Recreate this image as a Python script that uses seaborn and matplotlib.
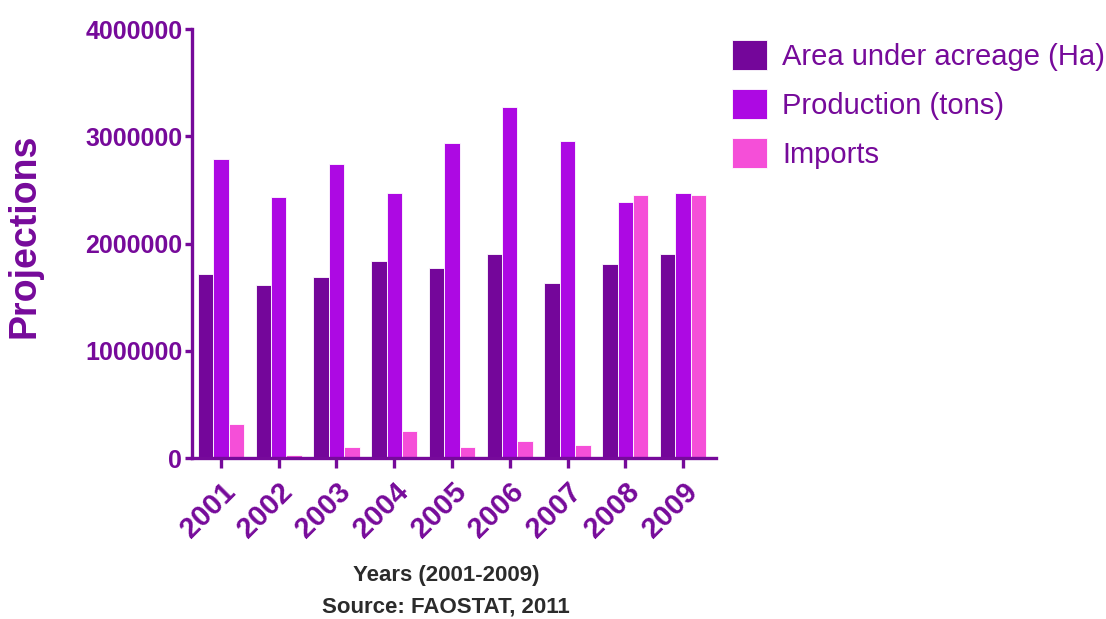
import matplotlib
matplotlib.use("Agg")
import matplotlib.pyplot as plt
import seaborn as sns
import pandas as pd

# values
years = ["2001", "2002", "2003", "2004", "2005", "2006", "2007", "2008", "2009"]
area_ha = [1720000, 1610000, 1685000, 1840000, 1775000, 1905000, 1630000, 1810000, 1900000]
production_tons = [2790000, 2430000, 2740000, 2475000, 2940000, 3270000, 2955000, 2390000, 2470000]
imports = [320000, 30000, 106000, 250000, 100000, 156000, 120000, 2455000, 2450000]
series_names = ["Area under acreage (Ha)", "Production (tons)", "Imports"]
y_ticks = [0, 1000000, 2000000, 3000000, 4000000]

colors = ["#74069A", "#AD09E3", "#F54FD8"]
purple = "#760A9A"
dark = "#2B2B2B"
fonts = ["Liberation Sans", "DejaVu Sans"]

df = pd.DataFrame({
    "Year": years * 3,
    "Value": area_ha + production_tons + imports,
    "Series": [series_names[0]] * 9 + [series_names[1]] * 9 + [series_names[2]] * 9,
})

sns.set_style("white")
fig = plt.figure(figsize=(11.06, 6.19), dpi=100)
ax = fig.add_axes([192 / 1106, 1 - 458 / 619, 524 / 1106, 429 / 619])

sns.barplot(data=df, x="Year", y="Value", hue="Series", palette=colors, saturation=1,
            width=0.8, edgecolor="white", linewidth=0.6, ax=ax)

ax.set_xlim(-0.5, 8.57)
ax.set_ylim(0, 4000000)
ax.set_yticks(y_ticks)
ax.set_yticklabels([str(t) for t in y_ticks])

for side in ["top", "right"]:
    ax.spines[side].set_visible(False)
for side in ["left", "bottom"]:
    ax.spines[side].set_color(purple)
    ax.spines[side].set_linewidth(2.4)

ax.tick_params(axis="y", length=5, width=2.4, color=purple, pad=2, left=True)
ax.tick_params(axis="x", length=7, width=2.4, color=purple, pad=7, bottom=True)

for lab in ax.get_yticklabels():
    lab.set_fontfamily(fonts)
    lab.set_fontweight("bold")
    lab.set_fontsize(18)
    lab.set_color(purple)
for lab in ax.get_xticklabels():
    lab.set_fontfamily(fonts)
    lab.set_fontweight("bold")
    lab.set_fontsize(21)
    lab.set_color(purple)
    lab.set_rotation(45)
    lab.set_ha("right")
    lab.set_rotation_mode("anchor")

ax.set_xlabel("")
ax.set_ylabel("")
fig.text(25 / 1106, 1 - 236 / 619, "Projections", rotation=90, ha="center", va="center",
         fontsize=27, fontweight="bold", color=purple, family=fonts)
fig.text(446 / 1106, 1 - 575 / 619, "Years (2001-2009)", ha="center", va="center",
         fontsize=16, fontweight="bold", color=dark, family=fonts)
fig.text(446 / 1106, 1 - 607 / 619, "Source: FAOSTAT, 2011", ha="center", va="center",
         fontsize=16, fontweight="bold", color=dark, family=fonts)

handles, labels = ax.get_legend_handles_labels()
ax.get_legend().remove()
leg = fig.legend(handles, labels, loc="upper left", bbox_to_anchor=(732 / 1106, 1 - 40 / 619),
                 frameon=False, borderpad=0, borderaxespad=0, handlelength=1.2, handleheight=1.2,
                 handletextpad=0.52, labelspacing=0.62, prop={"family": fonts, "size": 21})
for t in leg.get_texts():
    t.set_color(purple)

fig.savefig("out.png", dpi=100)
